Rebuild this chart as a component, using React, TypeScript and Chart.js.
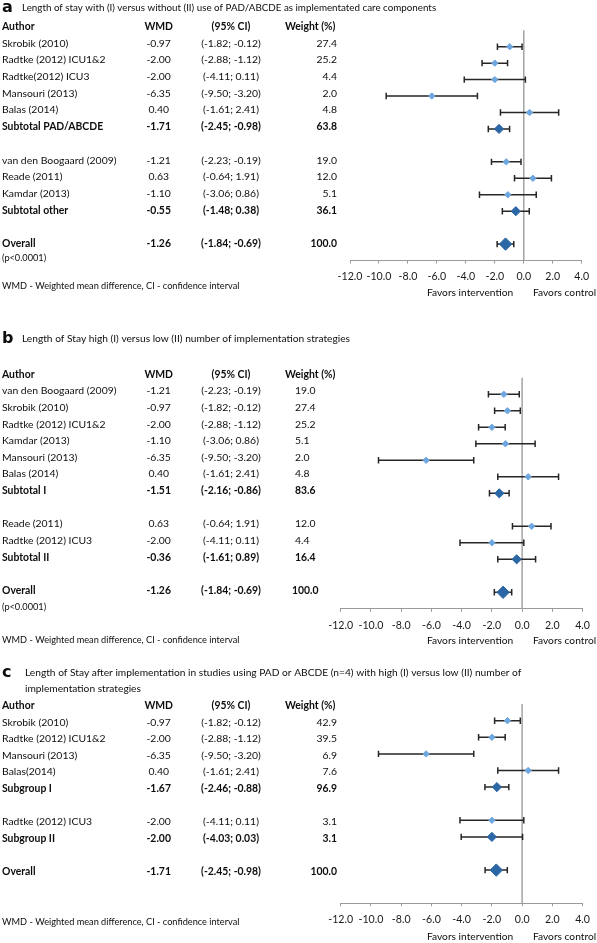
import React, { useEffect, useRef } from "react";
import { Chart, registerables } from "chart.js";

Chart.register(...registerables);

// ---------- Panel a ----------
const aAuthors = ["Skrobik (2010)", "Radtke (2012) ICU1&2", "Radtke(2012) ICU3", "Mansouri (2013)", "Balas (2014)", "Subtotal PAD/ABCDE", "van den Boogaard (2009)", "Reade (2011)", "Kamdar (2013)", "Subtotal other", "Overall"];
const aRows = [0, 1, 2, 3, 4, 5, 7, 8, 9, 10, 12];
const aWmd = [-0.97, -2.0, -2.0, -6.35, 0.4, -1.71, -1.21, 0.63, -1.1, -0.55, -1.26];
const aLow = [-1.82, -2.88, -4.11, -9.5, -1.61, -2.45, -2.23, -0.64, -3.06, -1.48, -1.84];
const aHigh = [-0.12, -1.12, 0.11, -3.2, 2.41, -0.98, -0.19, 1.91, 0.86, 0.38, -0.69];
const aWeight = [27.4, 25.2, 4.4, 2.0, 4.8, 63.8, 19.0, 12.0, 5.1, 36.1, 100.0];
const aKind = ["s", "s", "s", "s", "s", "sub", "s", "s", "s", "sub", "all"];

// ---------- Panel b ----------
const bAuthors = ["van den Boogaard (2009)", "Skrobik (2010)", "Radtke (2012) ICU1&2", "Kamdar (2013)", "Mansouri (2013)", "Balas (2014)", "Subtotal I", "Reade (2011)", "Radtke (2012) ICU3", "Subtotal II", "Overall"];
const bRows = [0, 1, 2, 3, 4, 5, 6, 8, 9, 10, 12];
const bWmd = [-1.21, -0.97, -2.0, -1.1, -6.35, 0.4, -1.51, 0.63, -2.0, -0.36, -1.26];
const bLow = [-2.23, -1.82, -2.88, -3.06, -9.5, -1.61, -2.16, -0.64, -4.11, -1.61, -1.84];
const bHigh = [-0.19, -0.12, -1.12, 0.86, -3.2, 2.41, -0.86, 1.91, 0.11, 0.89, -0.69];
const bWeight = [19.0, 27.4, 25.2, 5.1, 2.0, 4.8, 83.6, 12.0, 4.4, 16.4, 100.0];
const bKind = ["s", "s", "s", "s", "s", "s", "sub", "s", "s", "sub", "all"];

// ---------- Panel c ----------
const cAuthors = ["Skrobik (2010)", "Radtke (2012) ICU1&2", "Mansouri (2013)", "Balas(2014)", "Subgroup I", "Radtke (2012) ICU3", "Subgroup II", "Overall"];
const cRows = [0, 1, 2, 3, 4, 6, 7, 9];
const cWmd = [-0.97, -2.0, -6.35, 0.4, -1.67, -2.0, -2.0, -1.71];
const cLow = [-1.82, -2.88, -9.5, -1.61, -2.46, -4.11, -4.03, -2.45];
const cHigh = [-0.12, -1.12, -3.2, 2.41, -0.88, 0.11, 0.03, -0.98];
const cWeight = [42.9, 39.5, 6.9, 7.6, 96.9, 3.1, 3.1, 100.0];
const cKind = ["s", "s", "s", "s", "sub", "s", "sub", "all"];

// ---------- shared texts ----------
const xTicks = [-12, -10, -8, -6, -4, -2, 0, 2, 4];
const headers = ["Author", "WMD", "(95% CI)", "Weight (%)"];
const footnote = "WMD - Weighted mean difference, CI - confidence interval";
const favorsLeft = "Favors intervention";
const favorsRight = "Favors control";
const pValue = "(p<0.0001)";

const FONT = 'Lato, "Noto Sans", sans-serif';
const W = 597;
const AXIS_H = 24;
const LIGHT = "#6EA7DF";
const DARK = "#2B66A5";
const BAR = "#262626";
const TXT = "#0d0d0d";

type Panel = {
  letter: string;
  title: string[];
  titleX: number;
  titleY: number;
  titleSize: number;
  top: number;
  height: number;
  plotLeft: number;
  plotRight: number;
  plotTop: number;
  plotBottom: number;
  yMin: number;
  yMax: number;
  dy0: number;
  dyRow: number;
  authors: string[];
  rows: number[];
  wmd: number[];
  low: number[];
  high: number[];
  weight: number[];
  kind: string[];
  weightAlign: "left" | "right";
  weightX: number;
  pY: number | null;
  footY: number;
  favorsY: number;
};

const panels: Panel[] = [
  {
    letter: "a",
    title: ["Length of stay with (I) versus without (II) use of PAD/ABCDE as implementated care components"],
    titleX: 22,
    titleY: 8,
    titleSize: 9.8,
    top: 0,
    height: 300,
    plotLeft: 350,
    plotRight: 581.7,
    plotTop: 30.25,
    plotBottom: 260.55,
    yMin: -1,
    yMax: 13,
    dy0: -3.4,
    dyRow: 0.25,
    authors: aAuthors,
    rows: aRows,
    wmd: aWmd,
    low: aLow,
    high: aHigh,
    weight: aWeight,
    kind: aKind,
    weightAlign: "right",
    weightX: 337,
    pY: 258,
    footY: 285.7,
    favorsY: 293,
  },
  {
    letter: "b",
    title: ["Length of Stay high (I) versus low (II) number of implementation strategies"],
    titleX: 22,
    titleY: 339,
    titleSize: 10.2,
    top: 300,
    height: 348,
    plotLeft: 340.7,
    plotRight: 584,
    plotTop: 377.8,
    plotBottom: 608.8,
    yMin: -1,
    yMax: 13,
    dy0: -3.3,
    dyRow: 0.13,
    authors: bAuthors,
    rows: bRows,
    wmd: bWmd,
    low: bLow,
    high: bHigh,
    weight: bWeight,
    kind: bKind,
    weightAlign: "left",
    weightX: 295,
    pY: 606.7,
    footY: 640,
    favorsY: 641,
  },
  {
    letter: "c",
    title: [
      "Length of Stay after implementation in studies using PAD or ABCDE (n=4) with high (I) versus low (II) number of",
      "implementation strategies",
    ],
    titleX: 25,
    titleY: 673,
    titleSize: 10.2,
    top: 648,
    height: 295,
    plotLeft: 340.7,
    plotRight: 585,
    plotTop: 704.1,
    plotBottom: 903.3,
    yMin: -1,
    yMax: 11,
    dy0: 1.6,
    dyRow: 0,
    authors: cAuthors,
    rows: cRows,
    wmd: cWmd,
    low: cLow,
    high: cHigh,
    weight: cWeight,
    kind: cKind,
    weightAlign: "right",
    weightX: 337,
    pY: null,
    footY: 921.7,
    favorsY: 936.7,
  },
];

function txt(ctx: CanvasRenderingContext2D, s: string, x: number, y: number, font: string, align: CanvasTextAlign = "left", color = TXT) {
  ctx.font = font;
  ctx.textAlign = align;
  ctx.textBaseline = "middle";
  ctx.fillStyle = color;
  ctx.fillText(s, x, y);
}

function ForestPanel({ p }: { p: Panel }) {
  const ref = useRef<HTMLCanvasElement | null>(null);

  useEffect(() => {
    const canvas = ref.current;
    if (!canvas) return;
    const pts = (k: string) =>
      p.rows.map((r, i) => ({ r, i })).filter((o) => p.kind[o.i] === k).map((o) => ({ x: p.wmd[o.i], y: o.r }));

    const forestPlugin = {
      id: "forest" + p.letter,
      beforeDatasetsDraw(chart: any) {
        const ctx: CanvasRenderingContext2D = chart.ctx;
        const xs = chart.scales.x;
        const ys = chart.scales.y;
        const ca = chart.chartArea;
        const x0 = xs.getPixelForValue(0);
        ctx.save();
        ctx.strokeStyle = "#a3a3a3";
        ctx.lineWidth = 1.5;
        ctx.beginPath();
        ctx.moveTo(x0, ca.top);
        ctx.lineTo(x0, ca.bottom);
        ctx.stroke();
        ctx.strokeStyle = BAR;
        ctx.lineWidth = 1.5;
        p.rows.forEach((r, i) => {
          const y = ys.getPixelForValue(r);
          const xl = xs.getPixelForValue(p.low[i]);
          const xh = xs.getPixelForValue(p.high[i]);
          ctx.beginPath();
          ctx.moveTo(xl, y);
          ctx.lineTo(xh, y);
          ctx.moveTo(xl, y - 3.2);
          ctx.lineTo(xl, y + 3.2);
          ctx.moveTo(xh, y - 3.2);
          ctx.lineTo(xh, y + 3.2);
          ctx.stroke();
        });
        ctx.restore();
      },
      afterDraw(chart: any) {
        const ctx: CanvasRenderingContext2D = chart.ctx;
        const ys = chart.scales.y;
        const T = p.top;
        const reg = `10.4px ${FONT}`;
        const bold = `bold 10.4px ${FONT}`;
        const titleFont = `${p.titleSize}px ${FONT}`;
        const small = `9.2px ${FONT}`;
        ctx.save();
        txt(ctx, p.letter, 2, p.titleY - T, `bold 16px "DejaVu Sans", sans-serif`);
        p.title.forEach((line, k) => txt(ctx, line, p.titleX, p.titleY - T + k * 16, titleFont));
        const rowY = (r: number) => ys.getPixelForValue(r) + p.dy0 + p.dyRow * r;
        const hy = rowY(-1);
        txt(ctx, headers[0], 2, hy, bold);
        txt(ctx, headers[1], 158.7, hy, bold, "center");
        txt(ctx, headers[2], 231, hy, bold, "center");
        txt(ctx, headers[3], 285, hy, bold, "left");
        p.rows.forEach((r, i) => {
          const y = rowY(r);
          const f = p.kind[i] === "s" ? reg : bold;
          txt(ctx, p.authors[i], 2, y, f);
          txt(ctx, p.wmd[i].toFixed(2), 158.7, y, f, "center");
          txt(ctx, `(${p.low[i].toFixed(2)}; ${p.high[i].toFixed(2)})`, 231, y, f, "center");
          const wx = p.weightAlign === "left" && p.kind[i] === "all" ? p.weightX - 3 : p.weightX;
          txt(ctx, p.weight[i].toFixed(1), wx, y, f, p.weightAlign);
        });
        if (p.pY !== null) txt(ctx, pValue, 2, p.pY - T, small);
        txt(ctx, footnote, 2, p.footY - T, small);
        txt(ctx, favorsLeft, 427, p.favorsY - T, `10.2px ${FONT}`);
        txt(ctx, favorsRight, 533, p.favorsY - T, `10.2px ${FONT}`);
        ctx.restore();
      },
    };

    const chart = new Chart(canvas, {
      type: "scatter",
      data: {
        datasets: [
          { data: pts("s"), pointStyle: "rectRot", pointRadius: 3.2, backgroundColor: LIGHT, borderColor: LIGHT, borderWidth: 1 },
          { data: pts("sub"), pointStyle: "rectRot", pointRadius: 4.6, backgroundColor: DARK, borderColor: DARK, borderWidth: 1 },
          { data: pts("all"), pointStyle: "rectRot", pointRadius: 6.2, backgroundColor: DARK, borderColor: DARK, borderWidth: 1 },
        ],
      },
      options: {
        responsive: false,
        animation: false,
        devicePixelRatio: 1,
        events: [],
        layout: {
          padding: {
            left: p.plotLeft,
            right: W - p.plotRight,
            top: p.plotTop - p.top,
            bottom: p.top + p.height - p.plotBottom - AXIS_H,
          },
        },
        plugins: { legend: { display: false }, tooltip: { enabled: false } },
        scales: {
          x: {
            type: "linear",
            min: xTicks[0],
            max: xTicks[xTicks.length - 1],
            afterBuildTicks: (s: any) => {
              s.ticks = xTicks.map((v) => ({ value: v }));
            },
            afterFit: (s: any) => {
              s.height = AXIS_H;
            },
            ticks: {
              callback: (v: any) => Number(v).toFixed(1),
              font: { family: FONT, size: 10.6 },
              color: "#1a1a1a",
              padding: 7,
              maxRotation: 0,
              autoSkip: false,
            },
            grid: { drawOnChartArea: false, drawTicks: true, tickLength: 3, color: "#9a9a9a" },
            border: { color: "#9a9a9a", width: 1 },
          },
          y: { type: "linear", display: false, reverse: true, min: p.yMin, max: p.yMax },
        },
      },
      plugins: [forestPlugin],
    } as any);
    return () => chart.destroy();
  }, [p]);

  return (
    <canvas
      ref={ref}
      width={W}
      height={p.height}
      style={{ position: "absolute", left: 0, top: p.top, width: W, height: p.height }}
    />
  );
}

export default function App() {
  return (
    <div style={{ position: "absolute", left: 0, top: 0, width: W, height: 943, background: "#fff", overflow: "hidden" }}>
      {panels.map((p) => (
        <ForestPanel key={p.letter} p={p} />
      ))}
    </div>
  );
}
